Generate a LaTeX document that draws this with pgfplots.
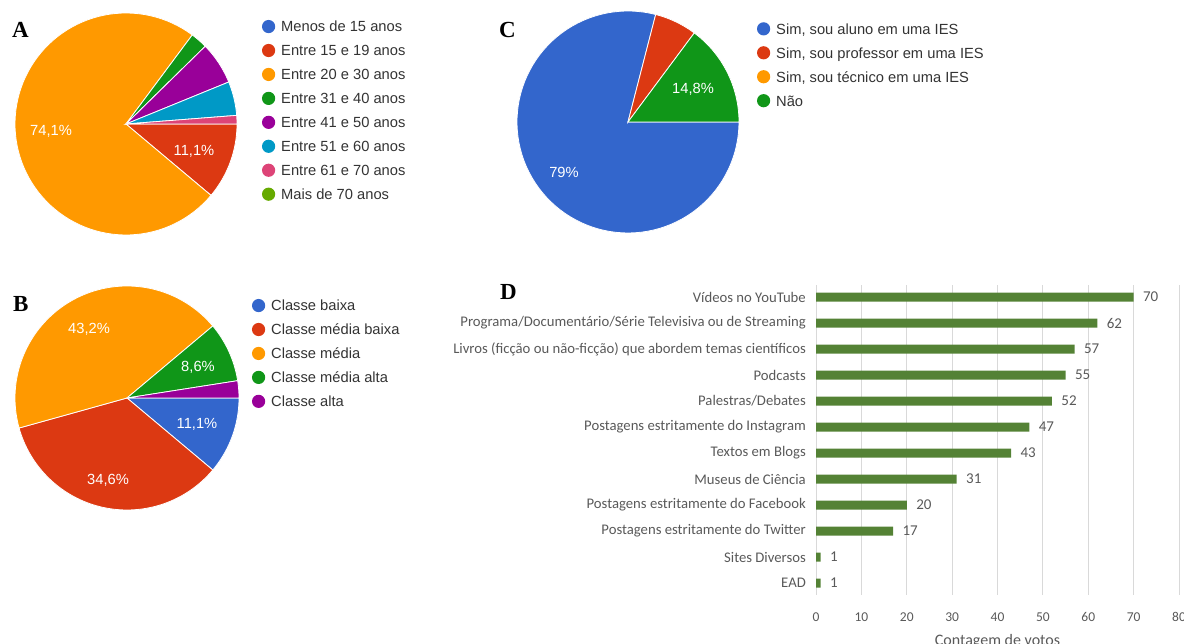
\documentclass[border=0pt]{standalone}
\usepackage{pgfplots}
\pgfplotsset{compat=1.18}
\usepackage{fontspec}
\setmainfont{Liberation Sans}
\newfontfamily\serifb{Liberation Serif}
\newfontfamily\carlito{Carlito}
\definecolor{gblue}{HTML}{3366CC}
\definecolor{gred}{HTML}{DC3912}
\definecolor{gorange}{HTML}{FF9900}
\definecolor{ggreen}{HTML}{109618}
\definecolor{gpurple}{HTML}{990099}
\definecolor{gteal}{HTML}{0099C6}
\definecolor{gpink}{HTML}{DD4477}
\definecolor{glime}{HTML}{66AA00}
\definecolor{legtext}{HTML}{333333}
\definecolor{bargreen}{HTML}{548235}
\definecolor{labgray}{HTML}{595959}
\definecolor{gridgray}{HTML}{D9D9D9}
% slice: colour, start count, end count (of 81 answers), clockwise from 3 o'clock
\newcommand{\slice}[3]{\addplot[fill=#1, draw=white, line width=0.8pt, domain=-360*#3/81:-360*#2/81, samples=90] ({cos(x)},{sin(x)}) -- (0,0) -- cycle;}
\pgfplotsset{
  pie/.style={hide axis, clip=false, xmin=-1, xmax=1, ymin=-1, ymax=1, anchor=center,
    legend image code/.code={\fill[##1,draw=none] (6.5pt,1.6pt) circle (6.6pt);},
    legend cell align=left,
    legend style={draw=none, fill=none, inner sep=0pt, anchor=north west, row sep=8.5pt,
      font=\fontsize{14.7}{17}\selectfont, text=legtext,
      nodes={inner sep=0pt, text height=11pt, text depth=3.5pt},
      /tikz/every odd column/.append style={column sep=6pt}},
  },
}
\begin{document}
\begin{tikzpicture}[x=1pt,y=1pt]
\useasboundingbox (0,0) rectangle (1184,644);

% ---------- A ----------
\begin{axis}[pie, x=111pt, y=111pt, at={(126pt,520pt)}, legend style={at={(1.1117,0.9696)}}]
\addlegendimage{fill=gblue}\addlegendentry{Menos de 15 anos}
\slice{gred}{0}{9}\addlegendentry{Entre 15 e 19 anos}
\slice{gorange}{9}{69}\addlegendentry{Entre 20 e 30 anos}
\slice{ggreen}{69}{71}\addlegendentry{Entre 31 e 40 anos}
\slice{gpurple}{71}{76}\addlegendentry{Entre 41 e 50 anos}
\slice{gteal}{76}{80}\addlegendentry{Entre 51 e 60 anos}
\slice{gpink}{80}{81}\addlegendentry{Entre 61 e 70 anos}
\addlegendimage{fill=glime}\addlegendentry{Mais de 70 anos}
\end{axis}

% ---------- B ----------
\begin{axis}[pie, x=112pt, y=112pt, at={(127pt,246pt)}, legend style={at={(1.0571,0.943)}}]
\slice{gblue}{0}{9}\addlegendentry{Classe baixa}
\slice{gred}{9}{37}\addlegendentry{Classe média baixa}
\slice{gorange}{37}{72}\addlegendentry{Classe média}
\slice{ggreen}{72}{79}\addlegendentry{Classe média alta}
\slice{gpurple}{79}{81}\addlegendentry{Classe alta}
\end{axis}

% ---------- C ----------
\begin{axis}[pie, x=111pt, y=111pt, at={(628pt,522pt)}, legend style={at={(1.0802,0.9502)}}]
\slice{gblue}{0}{64}\addlegendentry{Sim, sou aluno em uma IES}
\slice{gred}{64}{69}\addlegendentry{Sim, sou professor em uma IES}
\addlegendimage{fill=gorange}\addlegendentry{Sim, sou técnico em uma IES}
\slice{ggreen}{69}{81}\addlegendentry{Não}
\end{axis}

% pie labels
\begin{scope}[every node/.style={text=white, inner sep=0pt, font=\fontsize{14.7}{17}\selectfont}]
\node at (51,513) {74,1\%};
\node at (194,493) {11,1\%};
\node at (89,315) {43,2\%};
\node at (198,277) {8,6\%};
\node at (197,220) {11,1\%};
\node at (108,164) {34,6\%};
\node at (693,555) {14,8\%};
\node at (564,472) {79\%};
\end{scope}

% ---------- D ----------
\begin{axis}[at={(816pt,49pt)}, anchor=south west, x=4.5375pt, y=26pt,
  xmin=0, xmax=80, ymin=-0.46, ymax=11.46, y dir=reverse, clip=false,
  /pgf/number format/assume math mode=true,
  xbar, bar width=9pt, axis line style={draw=none},
  xmajorgrids, grid style={draw=gridgray, line width=1pt},
  major tick length=0pt, xtick={0,10,...,80}, ytick={0,...,11},
  yticklabels={Vídeos no YouTube, Programa/Documentário/Série Televisiva ou de Streaming,
    Livros (ficção ou não-ficção) que abordem temas científicos, Podcasts, Palestras/Debates,
    Postagens estritamente do Instagram, Textos em Blogs, Museus de Ciência,
    Postagens estritamente do Facebook, Postagens estritamente do Twitter, Sites Diversos, EAD},
  tick label style={text=labgray},
  yticklabel style={font=\carlito\fontsize{14.7}{17}\selectfont, inner sep=0pt, xshift=-10pt},
  xticklabel style={font=\carlito\fontsize{13.5}{16}\selectfont, anchor=base, inner sep=0pt, yshift=-26.5pt},
  point meta=x, nodes near coords,
  nodes near coords style={font=\carlito\fontsize{15}{17}\selectfont, text=labgray, anchor=west, inner sep=0pt, xshift=9.3pt}]
\addplot[fill=bargreen, draw=none] coordinates {(70,0) (62,1) (57,2) (55,3) (52,4) (47,5) (43,6) (31,7) (20,8) (17,9) (1,10) (1,11)};
\end{axis}
\node[anchor=base, inner sep=0pt, text=labgray, font=\carlito\fontsize{16}{18}\selectfont] at (997.5,-1.5) {Contagem de votos};

% panel letters
\begin{scope}[every node/.style={anchor=base west, inner sep=0pt, font=\serifb\bfseries\fontsize{23}{23}\selectfont}]
\node at (12,606) {A};
\node at (13,332) {B};
\node at (499,606) {C};
\node at (500,344) {D};
\end{scope}
\end{tikzpicture}
\end{document}
